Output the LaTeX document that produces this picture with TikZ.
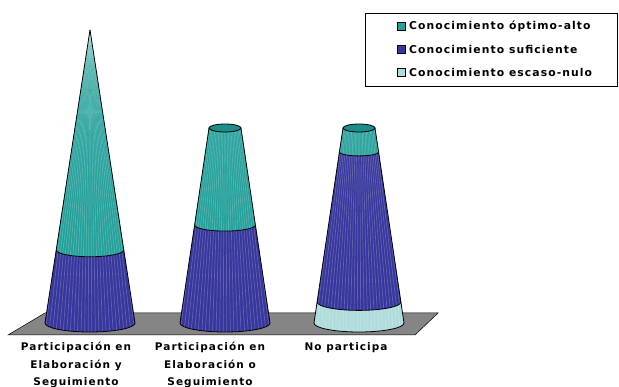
\documentclass[tikz,border=0pt]{standalone}
\usepackage{fontspec}
\newfontfamily\labfont{DejaVu Sans}[LetterSpace=10]
\definecolor{tealC}{HTML}{23A09A}
\definecolor{tealT}{HTML}{1C8E8A}
\definecolor{blueC}{HTML}{36369C}
\definecolor{lightC}{HTML}{B0DCDC}
\definecolor{floorC}{HTML}{858585}
\tikzset{
  outline/.style={draw=black, line width=0.8pt},
  stripe/.style={draw=white, opacity=0.22, line width=0.7pt},
  lab/.style={font=\labfont\bfseries\fontsize{10.5}{17.5}\selectfont, align=center, anchor=north, inner sep=0pt},
  legtxt/.style={font=\labfont\bfseries\fontsize{10.8}{12}\selectfont, anchor=west, inner sep=0pt},
  legsq/.style={draw=black, line width=0.5pt, minimum size=8pt, inner sep=0pt}
}
% cx, ytop, ybottom, rtop, rbottom, colour
\newcommand\conseg[6]{%
  \fill[#6] ({#1-#5},#3) arc[start angle=180,end angle=0,x radius=#5,y radius={0.2*#5}]
     -- ({#1+#4},#2) arc[start angle=0,end angle=180,x radius=#4,y radius={0.2*#4}] -- cycle;
  \begin{scope}
    \clip ({#1-#5},#3) arc[start angle=180,end angle=0,x radius=#5,y radius={0.2*#5}]
     -- ({#1+#4},#2) arc[start angle=0,end angle=180,x radius=#4,y radius={0.2*#4}] -- cycle;
    \foreach \t in {-1,-0.92,...,1.01} {
      \draw[stripe] ({#1+\t*#4},{#2-6}) -- ({#1+\t*#5},{#3+12});
    }
  \end{scope}
  \draw[outline] ({#1-#5},#3) arc[start angle=180,end angle=0,x radius=#5,y radius={0.2*#5}]
     -- ({#1+#4},#2);
  \draw[outline] ({#1-#5},#3) -- ({#1-#4},#2);
}
\begin{document}
\begin{tikzpicture}[x=1pt,y=-1pt]
\useasboundingbox (0,0) rectangle (619,387);
% floor
\coordinate (f1) at (45,313);
\coordinate (f2) at (438,313);
\coordinate (f3) at (415,335);
\coordinate (f4) at (8,335);
\fill[floorC, draw=black, line width=0.5pt] (f1) -- (f2) -- (f3) -- (f4) -- cycle;
% cone 1
\conseg{90}{250}{323}{33.8}{45}{blueC}
\conseg{90}{30}{250}{0.01}{33.8}{tealC}
% cone 2
\conseg{225}{225}{323}{30.4}{45}{blueC}
\conseg{225}{128}{225}{16}{30.4}{tealC}
\draw[outline, fill=tealT] (225,128) ellipse[x radius=16, y radius=4];
% cone 3
\conseg{359}{302}{323}{41.9}{45}{lightC}
\conseg{359}{152}{302}{19.6}{41.9}{blueC}
\conseg{359}{128}{152}{16}{19.6}{tealC}
\draw[outline, fill=tealT] (359,128) ellipse[x radius=16, y radius=4];
% labels
\node[lab] (l1) at (76,342) {Participación en\\Elaboración y\\Seguimiento};
\node[lab] (l2) at (210,342) {Participación en\\Elaboración o\\Seguimiento};
\node[lab] (l3) at (346,342) {No participa};
% legend
\draw[line width=0.6pt] (365,13) rectangle (617,86);
\node[legsq, fill=tealC] (s1) at (401.5,26) {};
\node[legsq, fill=blueC] (s2) at (401.5,49) {};
\node[legsq, fill=lightC] (s3) at (401.5,72) {};
\node[legtxt] (t1) at (409,26) {Conocimiento óptimo-alto};
\node[legtxt] (t2) at (409,49) {Conocimiento suficiente};
\node[legtxt] (t3) at (409,72) {Conocimiento escaso-nulo};
\end{tikzpicture}
\end{document}
